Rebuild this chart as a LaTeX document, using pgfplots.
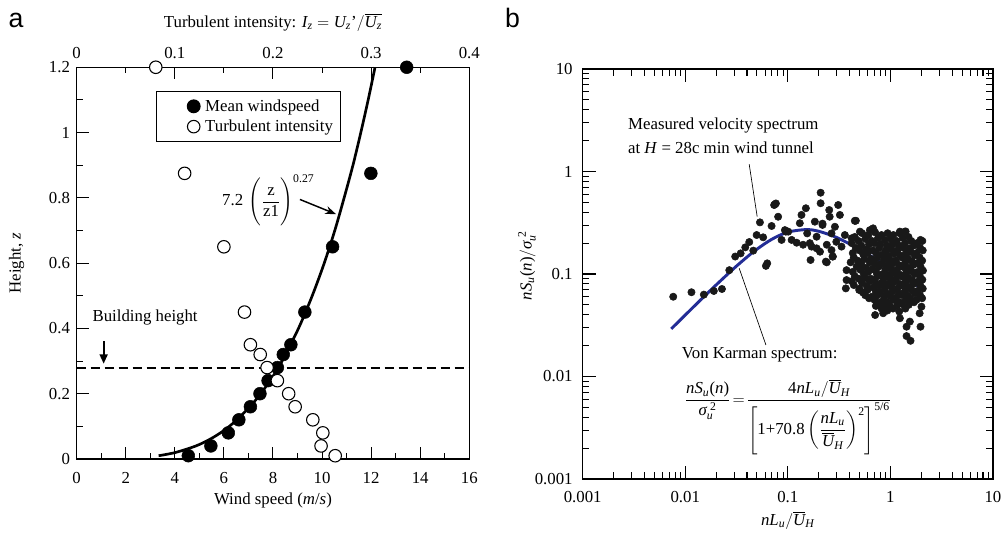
\documentclass[border=0pt]{standalone}
\usepackage{amsmath}
\usepackage{fontspec}
\setmainfont{Liberation Serif}
\newfontfamily\sansf{Liberation Sans}
\usepackage{pgfplots}
\pgfplotsset{compat=1.18}
\usetikzlibrary{arrows.meta}
\definecolor{vkblue}{RGB}{35,45,150}
\newcommand{\fs}{\fontsize{12.6}{15}\selectfont}
\newcommand{\ti}[1]{\textit{#1}}
\pgfplotsset{
  myax/.style={scale only axis, tick align=inside,
    axis line style={line width=0.9pt},
    every tick/.style={black, line width=0.8pt},
    tick label style={font=\fs}, label style={font=\fs},
    clip=false}
}
\begin{document}
\begin{tikzpicture}
% ---------------- panel a ----------------
\begin{axis}[myax,
  at={(57.5pt,56.25pt)}, anchor=south west, width=294.45pt, height=293.8pt,
  xmin=0, xmax=16, ymin=0, ymax=1.2,
  xtick={0,2,4,6,8,10,12,14,16}, xticklabels={0,2,4,6,8,10,12,14,16},
  ytick={0,0.2,0.4,0.6,0.8,1,1.2}, yticklabels={0,0.2,0.4,0.6,0.8,1,1.2},
  minor x tick num=1, minor y tick num=1,
  xtick pos=bottom, ytick pos=left,
  major tick length=9pt, minor tick length=4.5pt,
  xticklabel style={yshift=-6.5pt}, yticklabel style={xshift=-1.5pt},
  xlabel={Wind speed (\ti{m}/\ti{s})}, ylabel={Height, \ti{z}},
  xlabel style={at={(axis description cs:0.5,-0.105)}, anchor=center},
  ylabel style={at={(axis description cs:-0.153,0.5)}, anchor=center},
]
\addplot[black, line width=1.4pt, dash pattern=on 7pt off 3.5pt] coordinates {(0,0.28)(16,0.28)};
\addplot[black, line width=2pt, smooth, tension=0.5] coordinates {
(3.34,0.01)(4.03,0.02)(4.86,0.04)(5.42,0.06)(5.86,0.08)(6.22,0.10)(6.53,0.12)(7.06,0.16)(7.50,0.2)(7.97,0.25)(8.37,0.3)(9.04,0.4)(9.60,0.5)(10.09,0.6)(10.52,0.7)(10.90,0.8)(11.26,0.9)(11.58,1.0)(11.88,1.1)(12.16,1.2)};
\addplot[only marks, mark=*, mark size=4.8pt, black] coordinates {
(4.55,0.01)(5.47,0.04)(6.18,0.08)(6.61,0.12)(7.08,0.16)(7.47,0.20)(7.80,0.24)(8.18,0.28)(8.42,0.32)(8.73,0.35)(9.30,0.45)(10.43,0.65)(11.99,0.875)(13.45,1.2)};
\node[font=\fs] at (axis cs:2.79,0.432) {Building height};
\draw[-{Triangle[length=7pt,width=6pt]}, line width=1.3pt] (axis cs:1.1,0.36) -- (axis cs:1.1,0.292);
\node[font=\fs, anchor=west, inner sep=0pt] at (axis cs:5.92,0.793) {\text{7.2}\,\,$\Biggl(\dfrac{\text{z}}{\text{z1}}\Biggr)^{\text{0.27}}$};
\draw[-{Stealth[length=8pt,width=6pt]}, line width=1.1pt] (axis cs:9.1,0.795) -- (axis cs:10.57,0.75);
\end{axis}
\begin{axis}[myax,
  at={(57.5pt,56.25pt)}, anchor=south west, width=294.45pt, height=293.8pt,
  xmin=0, xmax=0.4, ymin=0, ymax=1.2,
  axis x line*=top, hide y axis,
  xtick={0,0.1,0.2,0.3,0.4}, xticklabels={0,0.1,0.2,0.3,0.4},
  minor x tick num=1, major tick length=9pt, minor tick length=4.5pt,
  xticklabel style={yshift=3pt},
  xlabel={Turbulent intensity: $\ti{I}_{\ti{z}}=\ti{U}_{\ti{z}}\text{'}/\overline{\ti{U}_{\ti{z}}}$},
  xlabel style={at={(axis description cs:0.5,1.115)}, anchor=center},
  legend style={at={(0.201,0.9395)}, anchor=north west, draw=black, line width=0.8pt,
    font=\fs, inner xsep=4pt, inner ysep=4pt, row sep=1pt},
  legend cell align=left,
  legend image code/.code={\path (0pt,0pt) (30pt,0pt); \draw[#1] plot coordinates {(23.8pt,0pt)};},
]
\addlegendimage{only marks, mark=*, mark size=4.8pt, black}
\addlegendentry{Mean windspeed}
\addplot[only marks, mark=*, mark size=4.7pt, mark options={fill=white, draw=black, line width=0.8pt}] coordinates {
(0.0806,1.2)(0.110,0.875)(0.150,0.65)(0.171,0.45)(0.177,0.35)(0.187,0.32)(0.194,0.28)(0.2045,0.24)(0.216,0.20)(0.2226,0.16)(0.2406,0.12)(0.2508,0.08)(0.249,0.04)(0.2634,0.01)};
\addlegendentry{Turbulent intensity}
\end{axis}
% ---------------- panel b ----------------
\begin{axis}[myax,
  at={(437pt,41.25pt)}, anchor=south west, width=307.7pt, height=307.5pt,
  xmode=log, ymode=log, xmin=0.001, xmax=10, ymin=0.001, ymax=10,
  xtick={0.001,0.01,0.1,1,10}, xticklabels={0.001,0.01,0.1,1,10},
  ytick={0.001,0.01,0.1,1,10}, yticklabels={0.001,0.01,0.1,1,10},
  major tick length=10pt, minor tick length=5pt,
  xticklabel style={yshift=-6pt}, yticklabel style={xshift=-4pt},
  xlabel={$\ti{nL}_{\ti{u}}/\overline{\ti{U}}_{\ti{H}}$},
  ylabel={$\ti{nS}_{\ti{u}}\text{(}\ti{n}\text{)}/\ti{σ}_{\ti{u}}^{\;\text{2}}$},
  xlabel style={at={(axis description cs:0.5,-0.1)}, anchor=center},
  ylabel style={at={(axis description cs:-0.136,0.52)}, anchor=center},
]
\addplot[vkblue, line width=2.2pt, smooth] coordinates {
(0.0073,0.02911)(0.01,0.03977)(0.015,0.05922)(0.02,0.07816)(0.03,0.11398)(0.04,0.14631)(0.05,0.17460)(0.07,0.21846)(0.1,0.25605)(0.15,0.27122)(0.2,0.26116)(0.3,0.22708)(0.5,0.17425)(0.7,0.14235)(1,0.11357)(1.5,0.08723)(2,0.07218)};
\addplot[only marks, mark=*, mark size=2.75pt, black!90] coordinates {
(0.00764,0.060)(0.0115,0.0664)(0.0152,0.0629)(0.0190,0.0683)(0.0228,0.0714)(0.0269,0.109)(0.0307,0.148)(0.0347,0.159)(0.0385,0.182)(0.0421,0.205)(0.0461,0.169)(0.0497,0.240)(0.0535,0.319)(0.0575,0.228)(0.0630,0.127)(0.0612,0.120)(0.0695,0.294)(0.0736,0.471)(0.0766,0.488)(0.0805,0.362)(0.0870,0.215)(0.0957,0.259)(0.0748,0.478)(0.101,0.259)(0.0937,0.268)(0.122,0.202)(0.131,0.313)(0.136,0.377)(0.150,0.438)(0.1545,0.249)(0.1706,0.185)(0.1667,0.137)(0.1836,0.324)(0.191,0.231)(0.209,0.621)(0.209,0.490)(0.218,0.301)(0.206,0.165)(0.235,0.132)(0.2535,0.421)(0.256,0.362)(0.267,0.249)(0.2735,0.148)(0.310,0.471)(0.322,0.377)(0.288,0.289)(0.334,0.185)(0.360,0.240)(0.461,0.331)(0.419,0.223)(0.505,0.259)(0.374,0.109)(0.374,0.0873)(0.368,0.0724)(0.497,0.0698)(0.631,0.268)(0.722,0.060)(0.722,0.0488)(0.711,0.0398)(0.679,0.279)(1.238,0.259)(1.384,0.259)(1.968,0.215)(0.851,0.0414)(1.238,0.037)(1.549,0.0343)(1.438,0.0306)(1.968,0.0306)(1.438,0.0248)(1.573,0.0223)(2.01,0.048)(1.93,0.0414)
(0.164,0.20)(0.109,0.215)(0.141,0.193)(0.191,0.178)(0.24,0.193)(0.297,0.206)(0.267,0.171)(0.218,0.31)(0.24,0.13)(0.275,0.148)(0.45,0.33)
(0.42,0.20)(0.43,0.16)(0.41,0.13)(0.43,0.105)(0.42,0.085)
(0.45,0.23)(0.46,0.18)(0.44,0.145)(0.47,0.118)(0.45,0.095)(0.44,0.078)
(0.49,0.21)(0.50,0.17)(0.48,0.135)(0.51,0.11)(0.49,0.09)(0.50,0.072)
(0.53,0.25)(0.52,0.19)(0.545,0.155)(0.52,0.125)(0.55,0.10)(0.53,0.082)(0.54,0.066)
(0.57,0.22)(0.585,0.175)(0.56,0.14)(0.58,0.115)(0.565,0.092)(0.59,0.076)(0.57,0.062)
(0.61,0.24)(0.62,0.195)(0.60,0.16)(0.63,0.13)(0.61,0.105)(0.625,0.085)(0.60,0.07)(0.62,0.058)
(0.66,0.21)(0.675,0.17)(0.65,0.14)(0.67,0.112)(0.645,0.09)(0.68,0.074)(0.66,0.06)
(0.71,0.255)(0.70,0.2)(0.725,0.16)(0.70,0.128)(0.73,0.104)(0.71,0.084)(0.72,0.068)(0.70,0.056)
(0.76,0.225)(0.78,0.18)(0.75,0.145)(0.77,0.118)(0.745,0.095)(0.775,0.077)(0.76,0.063)(0.78,0.052)
(0.82,0.24)(0.80,0.195)(0.835,0.155)(0.81,0.125)(0.84,0.1)(0.82,0.082)(0.80,0.067)(0.83,0.054)(0.82,0.046)
(0.88,0.215)(0.90,0.17)(0.87,0.138)(0.895,0.112)(0.86,0.09)(0.89,0.073)(0.875,0.06)(0.90,0.05)
(0.94,0.25)(0.925,0.19)(0.955,0.152)(0.93,0.122)(0.96,0.098)(0.94,0.08)(0.925,0.065)(0.95,0.053)(0.935,0.044)
(1.0,0.22)(1.02,0.175)(0.98,0.14)(1.01,0.113)(0.985,0.092)(1.025,0.075)(1.0,0.061)(0.98,0.05)
(1.07,0.24)(1.05,0.195)(1.09,0.158)(1.06,0.127)(1.095,0.102)(1.07,0.083)(1.05,0.068)(1.085,0.056)(1.06,0.046)
(1.15,0.21)(1.17,0.17)(1.13,0.136)(1.16,0.11)(1.135,0.089)(1.17,0.072)(1.14,0.059)(1.16,0.049)
(1.23,0.25)(1.21,0.19)(1.25,0.152)(1.22,0.122)(1.255,0.098)(1.23,0.08)(1.21,0.065)(1.245,0.053)(1.22,0.043)
(1.32,0.225)(1.34,0.18)(1.30,0.145)(1.335,0.117)(1.31,0.094)(1.345,0.076)(1.32,0.062)(1.30,0.051)
(1.41,0.26)(1.39,0.2)(1.43,0.16)(1.40,0.13)(1.435,0.104)(1.41,0.084)(1.39,0.068)(1.425,0.056)(1.40,0.046)
(1.5,0.23)(1.53,0.178)(1.48,0.142)(1.52,0.115)(1.485,0.093)(1.525,0.075)(1.49,0.061)(1.51,0.05)
(1.6,0.21)(1.58,0.165)(1.625,0.133)(1.59,0.108)(1.63,0.087)(1.60,0.07)(1.58,0.057)
(1.7,0.19)(1.73,0.152)(1.68,0.123)(1.72,0.1)(1.685,0.08)(1.725,0.065)(1.70,0.053)
(1.82,0.2)(1.80,0.16)(1.85,0.128)(1.81,0.104)(1.845,0.084)(1.82,0.068)(1.80,0.056)
(1.95,0.18)(1.93,0.145)(1.97,0.118)(1.94,0.095)(1.965,0.077)(1.95,0.062)
(2.05,0.21)(2.07,0.17)(2.04,0.135)(2.08,0.108)(2.05,0.088)(2.07,0.072)(2.04,0.058)};
\node[font=\fs, anchor=west, inner sep=0pt] at (axis cs:0.00276,2.843) {Measured velocity spectrum};
\node[font=\fs, anchor=west, inner sep=0pt] at (axis cs:0.00276,1.707) {at \ti{H} = 28c min wind tunnel};
\draw[line width=0.5pt] (axis cs:0.04205,1.176) -- (axis cs:0.0503,0.3623);
\draw[line width=0.5pt] (axis cs:0.0336,0.1136) -- (axis cs:0.0612,0.0203);
\node[font=\fs, anchor=west, inner sep=0pt] at (axis cs:0.00923,0.0162) {Von Karman spectrum:};
\node[font=\fs, anchor=west, inner sep=0pt] at (axis cs:0.0098,0.00403) {$\dfrac{\ti{nS}_{\ti{u}}\text{(}\ti{n}\text{)}}{\ti{σ}_{\ti{u}}^{\;\text{2}}}\!=\!\dfrac{\text{4}\ti{nL}_{\ti{u}}/\overline{\ti{U}}_{\ti{H}}}{\left[\text{1+70.8}\left(\dfrac{\ti{nL}_{\ti{u}}}{\overline{\ti{U}}_{\ti{H}}}\right)^{\text{2}}\right]^{\text{5/6}}}$};
\end{axis}
\node[font=\sansf\fontsize{20}{24}\selectfont] at (12pt,385pt) {a};
\node[font=\sansf\fontsize{20}{24}\selectfont] at (384.4pt,387pt) {b};
\pgfresetboundingbox
\useasboundingbox (0,0) rectangle (750.75pt,400.5pt);
\end{tikzpicture}
\end{document}
